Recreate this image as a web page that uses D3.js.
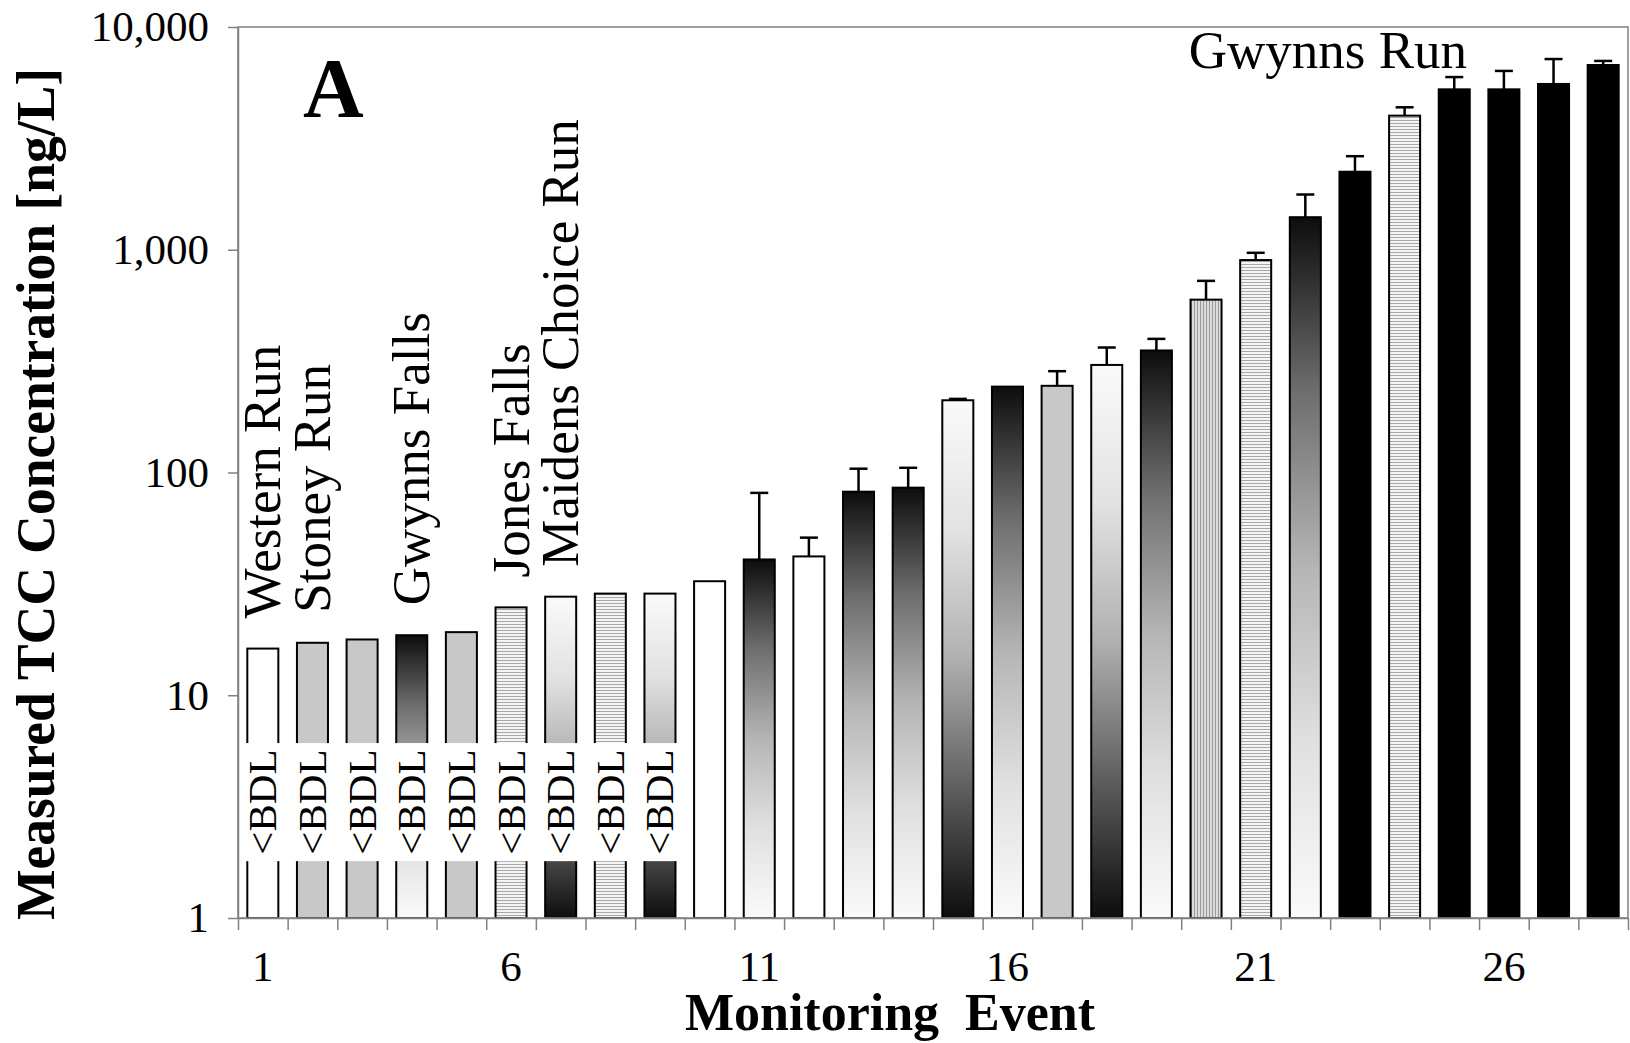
<!DOCTYPE html>
<html lang="en">
<head>
<meta charset="utf-8">
<title>TCC concentration by monitoring event</title>
<script src="https://cdn.jsdelivr.net/npm/d3@7"></script>
<style>
  body { margin: 0; background: #fff; }
  svg { display: block; font-family: "Liberation Serif", "Times New Roman", serif; }
  .axis path, .axis line { stroke: #808080; stroke-width: 1.5; }
  .axis text { fill: #000; font-family: "Liberation Serif", "Times New Roman", serif; font-size: 43px; }
  .bdl { font-size: 41px; }
  .site { font-size: 53px; }
</style>
</head>
<body>
<div id="chart"></div>
<script>

// monitoring events
var events = [1, 2, 3, 4, 5, 6, 7, 8, 9, 10, 11, 12, 13, 14,
              15, 16, 17, 18, 19, 20, 21, 22, 23, 24, 25, 26, 27, 28];

// measured TCC concentration [ng/L]
var tcc = [16.2, 17.2, 17.8, 18.6, 19.2, 24.8, 27.7, 28.6, 28.6, 32.5,
           40.7, 42, 82, 85.5, 211, 243, 245, 304, 353, 597,
           899, 1400, 2240, 4000, 5250, 5250, 5550, 6750];

// upper end of error bar (null = none drawn)
var errTop = [null, null, null, null, null, null, null, null, null, null,
              81, 51, 104, 105, 214, null, 285, 364, 398, 725,
              969, 1770, 2630, 4360, 5960, 6350, 7180, 7040];

// sampling site of each event
var sites = ["Western Run", "Stoney Run", "Stoney Run", "Gwynns Falls", "Stoney Run",
             "Jones Falls", "Maidens Choice Run", "Jones Falls", "Maidens Choice Run", "Western Run",
             "Gwynns Falls", "Western Run", "Gwynns Falls", "Gwynns Falls", "Maidens Choice Run",
             "Gwynns Falls", "Stoney Run", "Maidens Choice Run", "Gwynns Falls", "Other",
             "Jones Falls", "Gwynns Falls", "Gwynns Run", "Jones Falls", "Gwynns Run",
             "Gwynns Run", "Gwynns Run", "Gwynns Run"];

// events where bars are broken by a "<BDL" note, and the broken range [ng/L]
var bdlEvents = [1, 2, 3, 4, 5, 6, 7, 8, 9];
var bdlGap = [1.8, 6.1];

// site names written above their first bar
var siteLabels = [
    {event: 1, name: "Western Run"},
    {event: 2, name: "Stoney Run"},
    {event: 4, name: "Gwynns Falls"},
    {event: 6, name: "Jones Falls"},
    {event: 7, name: "Maidens Choice Run"}
];
var topLabel = {event: 23, name: "Gwynns Run"};

var yTicks = [1, 10, 100, 1000, 10000];
var xLabelTicks = [1, 6, 11, 16, 21, 26];

var data = events.map(function(d, i) {
    return {event: d, value: tcc[i], err: errTop[i], site: sites[i]};
});

// plot box
var plotLeft = 238, plotRight = 1628, plotTop = 27, plotBottom = 918;
var W = 1630, H = 1043;

var svg = d3.select("#chart").append("svg")
    .attr("width", W)
    .attr("height", H);

// fills
var defs = svg.append("defs");

var darkTop = defs.append("linearGradient").attr("id", "darkTop")
    .attr("x1", 0).attr("y1", 0).attr("x2", 0).attr("y2", 1);
[[0, "#0d0d0d"], [0.25, "#6e6e6e"], [0.5, "#b5b5b5"], [0.75, "#e0e0e0"], [1, "#fafafa"]]
    .forEach(function(s) { darkTop.append("stop").attr("offset", s[0]).attr("stop-color", s[1]); });

var lightTop = defs.append("linearGradient").attr("id", "lightTop")
    .attr("x1", 0).attr("y1", 0).attr("x2", 0).attr("y2", 1);
[[0, "#fafafa"], [0.25, "#e2e2e2"], [0.5, "#b0b0b0"], [0.75, "#5e5e5e"], [1, "#0d0d0d"]]
    .forEach(function(s) { lightTop.append("stop").attr("offset", s[0]).attr("stop-color", s[1]); });

var hStripe = defs.append("pattern").attr("id", "hStripe")
    .attr("patternUnits", "userSpaceOnUse").attr("width", 4).attr("height", 3);
hStripe.append("rect").attr("width", 4).attr("height", 3).attr("fill", "#f4f4f4");
hStripe.append("rect").attr("width", 4).attr("height", 1).attr("fill", "#a8a8a8");

var vStripe = defs.append("pattern").attr("id", "vStripe")
    .attr("patternUnits", "userSpaceOnUse").attr("width", 3).attr("height", 4);
vStripe.append("rect").attr("width", 3).attr("height", 4).attr("fill", "#dcdcdc");
vStripe.append("rect").attr("width", 1).attr("height", 4).attr("fill", "#9a9a9a");

var siteFill = {
    "Western Run": "#ffffff",
    "Stoney Run": "#c8c8c8",
    "Gwynns Falls": "url(#darkTop)",
    "Jones Falls": "url(#hStripe)",
    "Maidens Choice Run": "url(#lightTop)",
    "Other": "url(#vStripe)",
    "Gwynns Run": "#000000"
};

// scales
var x = d3.scaleBand()
    .domain(events)
    .range([plotLeft, plotRight])
    .paddingInner(0.375)
    .paddingOuter(0.1875);

var xEdge = d3.scaleLinear()
    .domain([events[0] - 0.5, events[events.length - 1] + 0.5])
    .range([plotLeft, plotRight]);

var y = d3.scaleLog()
    .domain([yTicks[0], yTicks[yTicks.length - 1]])
    .range([plotBottom, plotTop]);

// bars
svg.append("g").selectAll("rect")
    .data(data)
    .enter().append("rect")
    .attr("x", function(d) { return x(d.event); })
    .attr("y", function(d) { return y(d.value); })
    .attr("width", x.bandwidth())
    .attr("height", function(d) { return y(1) - y(d.value); })
    .attr("fill", function(d) { return siteFill[d.site]; })
    .attr("stroke", "#000")
    .attr("stroke-width", 2);

// break the <BDL bars
svg.append("g").selectAll("rect")
    .data(bdlEvents)
    .enter().append("rect")
    .attr("x", function(d) { return x(d) - 3; })
    .attr("y", y(bdlGap[1]))
    .attr("width", x.bandwidth() + 6)
    .attr("height", y(bdlGap[0]) - y(bdlGap[1]))
    .attr("fill", "#fff");

svg.append("g").selectAll("text")
    .data(bdlEvents)
    .enter().append("text")
    .attr("class", "bdl")
    .attr("text-anchor", "middle")
    .attr("dy", "0.33em")
    .attr("transform", function(d) {
        var cx = x(d) + x.bandwidth() / 2;
        var cy = (y(bdlGap[0]) + y(bdlGap[1])) / 2;
        return "translate(" + cx + "," + cy + ") rotate(-90)";
    })
    .text("<BDL");

// frame (top and right)
svg.append("rect")
    .attr("x", plotLeft).attr("y", plotTop)
    .attr("width", plotRight - plotLeft).attr("height", plotBottom - plotTop)
    .attr("fill", "none")
    .attr("stroke", "#808080")
    .attr("stroke-width", 1.5);

// y axis
svg.append("g")
    .attr("class", "axis")
    .attr("transform", "translate(" + plotLeft + ",0)")
    .call(d3.axisLeft(y).tickValues(yTicks).tickFormat(d3.format(",")).tickSize(10).tickPadding(19).tickSizeOuter(0));

// x axis ticks between events
var edges = events.map(function(d) { return d - 0.5; }).concat([events[events.length - 1] + 0.5]);
svg.append("g")
    .attr("class", "axis")
    .attr("transform", "translate(0," + plotBottom + ")")
    .call(d3.axisBottom(xEdge).tickValues(edges).tickFormat("").tickSize(12).tickSizeOuter(0));

// x axis labels
var xLab = svg.append("g")
    .attr("class", "axis")
    .attr("transform", "translate(0," + plotBottom + ")")
    .call(d3.axisBottom(x).tickValues(xLabelTicks).tickSize(0).tickPadding(32));
xLab.select(".domain").remove();

// error bars
var errs = svg.append("g").selectAll("g")
    .data(data.filter(function(d) { return d.err != null; }))
    .enter().append("g")
    .attr("stroke", "#000")
    .attr("stroke-width", 2.5);

errs.append("line")
    .attr("x1", function(d) { return x(d.event) + x.bandwidth() / 2; })
    .attr("x2", function(d) { return x(d.event) + x.bandwidth() / 2; })
    .attr("y1", function(d) { return y(d.value); })
    .attr("y2", function(d) { return y(d.err); });

errs.append("line")
    .attr("x1", function(d) { return x(d.event) + x.bandwidth() / 2 - 9; })
    .attr("x2", function(d) { return x(d.event) + x.bandwidth() / 2 + 9; })
    .attr("y1", function(d) { return y(d.err); })
    .attr("y2", function(d) { return y(d.err); });

// site names
svg.append("g").selectAll("text")
    .data(siteLabels)
    .enter().append("text")
    .attr("class", "site")
    .attr("dy", "0.33em")
    .attr("transform", function(d) {
        var cx = x(d.event) + x.bandwidth() / 2;
        var cy = y(tcc[events.indexOf(d.event)]) - 30;
        return "translate(" + cx + "," + cy + ") rotate(-90)";
    })
    .text(function(d) { return d.name; });

svg.append("text")
    .attr("class", "site")
    .attr("text-anchor", "middle")
    .attr("x", x(topLabel.event) + x.bandwidth() / 2 - 27)
    .attr("y", 68)
    .text(topLabel.name);

// panel letter
svg.append("text")
    .attr("x", 303)
    .attr("y", 117)
    .style("font-size", "84px")
    .style("font-weight", "bold")
    .text("A");

// axis titles
svg.append("text")
    .attr("text-anchor", "middle")
    .attr("transform", "translate(54,494) rotate(-90)")
    .attr("textLength", 852)
    .attr("lengthAdjust", "spacingAndGlyphs")
    .style("font-size", "55px")
    .style("font-weight", "bold")
    .text("Measured TCC Concentration [ng/L]");

svg.append("text")
    .attr("text-anchor", "middle")
    .attr("x", 890)
    .attr("y", 1030)
    .style("font-size", "52px")
    .style("font-weight", "bold")
    .style("white-space", "pre")
    .text("Monitoring  Event");

</script>
</body>
</html>
